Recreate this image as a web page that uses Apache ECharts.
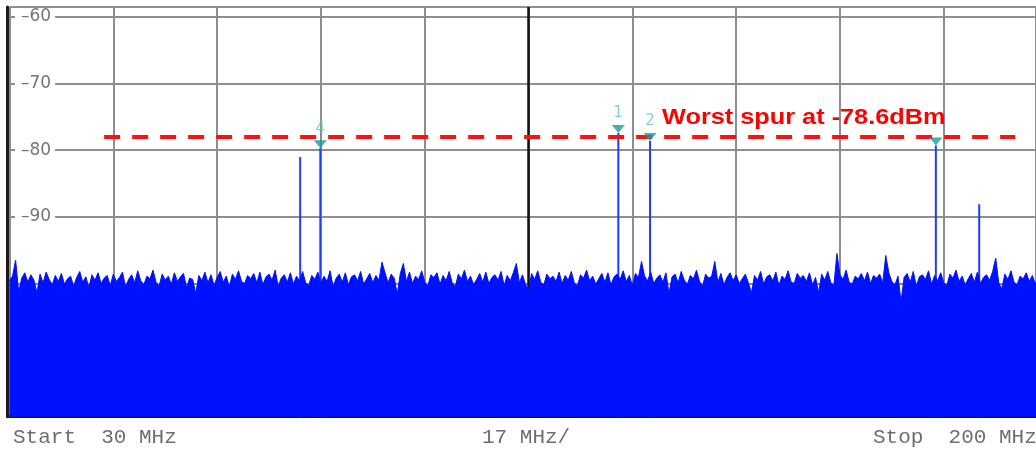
<!DOCTYPE html>
<html><head><meta charset="utf-8">
<script src="https://cdn.jsdelivr.net/npm/echarts@6/dist/echarts.min.js"></script>
<style>html,body{margin:0;padding:0;background:#fff;}#c{width:1036px;height:449px;}</style>
</head><body><div id="c"></div>
<script>
// ---- data ----
const yTickValues = [-90, -80, -70, -60];
const footerLabels = ['Start  30 MHz', '17 MHz/', 'Stop  200 MHz'];
const sweepStartMHz = 30;
const sweepStepMHz = 0.5;
const noiseLevels = [
  -99.6,-98.9,-96.5,-101.3,-99.2,-98.4,-99.8,-98.7,-99.5,-101.4,-98.6,-99.9,-98.3,-99.4,-100.2,-98.8,-99.7,-98.5,-100.1,-99.3,
  -98.9,-100.4,-99.1,-98.2,-99.8,-99.0,-100.6,-98.7,-99.5,-98.4,-100.0,-99.2,-98.8,-100.3,-98.6,-99.7,-99.1,-98.3,-100.5,-99.4,
  -98.7,-99.9,-98.1,-99.6,-100.2,-98.9,-99.3,-98.0,-99.8,-100.4,-98.6,-99.5,-98.9,-100.1,-98.4,-99.7,-99.0,-98.5,-100.6,-99.2,
  -99.4,-101.5,-98.8,-99.6,-98.3,-99.9,-98.7,-100.3,-99.1,-98.2,-99.8,-98.9,-100.5,-98.6,-99.4,-98.1,-99.7,-100.0,-98.8,-99.3,
  -98.5,-99.9,-98.3,-100.2,-99.0,-98.6,-99.5,-98.0,-100.4,-99.2,-98.7,-99.8,-98.4,-100.1,-98.9,-99.6,-98.2,-99.9,-100.3,-98.8,
  -99.4,-98.3,-100.0,-98.9,-99.7,-98.1,-100.5,-99.2,-98.6,-99.8,-98.4,-100.2,-99.0,-98.7,-99.6,-98.2,-100.1,-99.3,-98.5,-99.9,
  -98.8,-99.5,-96.8,-98.4,-99.9,-98.6,-99.2,-101.6,-98.5,-97.0,-99.7,-98.3,-100.0,-98.9,-99.4,-98.1,-99.8,-100.4,-98.7,-99.1,
  -98.4,-100.1,-98.8,-99.6,-98.2,-99.9,-100.5,-98.6,-99.3,-98.0,-99.7,-98.9,-100.2,-99.4,-98.5,-99.8,-98.3,-100.0,-99.1,-98.7,
  -99.5,-98.2,-100.3,-98.8,-99.6,-98.4,-97.0,-99.9,-98.7,-100.1,-101.0,-98.5,-99.4,-98.1,-99.8,-100.2,-98.6,-99.3,-98.9,-99.7,
  -98.3,-100.0,-98.8,-99.5,-98.2,-99.9,-100.4,-98.7,-99.2,-98.0,-99.6,-98.9,-100.1,-99.3,-98.5,-99.8,-98.4,-100.2,-99.0,-98.6,
  -99.4,-98.1,-99.7,-98.8,-100.3,-98.5,-99.1,-96.7,-98.9,-99.6,-98.3,-100.0,-99.2,-98.7,-99.8,-98.4,-101.5,-99.0,-98.6,-99.9,
  -98.2,-99.5,-100.1,-98.8,-99.3,-98.0,-99.7,-100.4,-98.6,-99.2,-98.9,-96.7,-99.8,-98.5,-100.2,-99.1,-98.4,-99.6,-98.7,-100.0,
  -99.3,-98.6,-99.9,-101.4,-98.8,-99.5,-98.2,-100.1,-99.0,-98.7,-99.6,-98.3,-100.3,-98.9,-99.4,-98.1,-99.8,-100.0,-98.5,-99.2,
  -98.8,-99.7,-98.4,-100.2,-99.1,-101.4,-98.6,-99.5,-98.2,-99.9,-100.3,-95.5,-98.7,-99.4,-98.0,-99.8,-100.1,-98.9,-99.3,-98.5,
  -99.6,-98.3,-100.0,-98.8,-99.2,-98.6,-99.9,-95.8,-98.4,-99.7,-100.2,-98.9,-102.7,-99.1,-98.5,-99.8,-98.2,-100.4,-99.0,-98.7,
  -99.4,-98.1,-100.1,-98.8,-99.6,-98.4,-99.9,-100.3,-98.6,-99.2,-98.0,-99.7,-98.9,-100.2,-99.3,-98.5,-99.8,-98.3,-100.0,-99.1,
  -98.7,-99.5,-98.2,-96.2,-99.9,-100.8,-98.6,-99.4,-98.1,-99.8,-100.2,-98.9,-99.3,-98.4,-99.7,-98.8,-100.1,-99.0,-98.5,-99.6,
  -99.2
];
const spurFreqs  = [77.6, 80.9, 129.7, 134.9, 181.7, 188.8];
const spurLevels = [-81.0, -79.7, -77.4, -78.6, -79.3, -88.1];
const markerNames  = ['4', '1', '2', '3'];
const markerFreqs  = [80.9, 129.7, 134.9, 181.7];
const markerLevels = [-79.7, -77.4, -78.6, -79.3];
const hiddenMarkerLabels = ['3'];
const worstSpurText = 'Worst spur at -78.6dBm';
const thresholdLevel = -78.0;
const thresholdSpan = [45.5, 194.7];
const centerFreq = 115;
const xStartMHz = 30;
const xVisibleEndMHz = 198.1;   // picture is cropped before the 200 MHz stop edge
const xDivMHz = 17;

// ---- chart ----
const Y_MIN = -120, Y_MAX = -58.5;
const noiseData = noiseLevels.map((v, i) => [sweepStartMHz + i * sweepStepMHz, v]);
const BLUE = '#0011ff';

const spurSeries = spurFreqs.map((f, i) => ({
  type: 'line', z: 2, symbol: 'none', silent: true, animation: false,
  data: [[f, Y_MIN], [f, spurLevels[i]]],
  lineStyle: { color: '#1f3cff', width: 2 }
}));

const chart = echarts.init(document.getElementById('c'), null, { renderer: 'canvas' });
chart.setOption({
  backgroundColor: '#ffffff',
  animation: false,
  grid: { left: 9.5, top: 7, right: 0, bottom: 32.3, containLabel: false },
  xAxis: {
    type: 'value', min: xStartMHz, max: xVisibleEndMHz, interval: xDivMHz,
    axisLine: { show: true, onZero: false, lineStyle: { color: '#1a1a1a', width: 3 } },
    axisTick: { show: false }, axisLabel: { show: false },
    splitLine: { show: true, lineStyle: { color: '#8e8e8e', width: 2 } }
  },
  yAxis: {
    type: 'value', min: Y_MIN, max: Y_MAX, interval: 10, offset: 2.5,
    axisLine: { show: true, onZero: false, lineStyle: { color: '#1a1a1a', width: 3 } },
    axisTick: { show: false },
    axisLabel: {
      show: true, inside: true, margin: 8, customValues: yTickValues,
      formatter: v => '\u2013' + Math.abs(v),
      color: '#757575', fontSize: 17, fontFamily: 'DejaVu Sans',
      backgroundColor: '#ffffff', padding: [0, 4, 0, 6]
    },
    splitLine: { show: true, lineStyle: { color: '#8e8e8e', width: 2 } }
  },
  graphic: [
    { type: 'text', x: 13, y: 437, z: 100, style: { text: footerLabels[0], font: '21px "Liberation Mono"', fill: '#6e6e6e', verticalAlign: 'middle' } },
    { type: 'text', x: 482, y: 437, z: 100, style: { text: footerLabels[1], font: '21px "Liberation Mono"', fill: '#6e6e6e', verticalAlign: 'middle' } },
    { type: 'text', x: 873, y: 437, z: 100, style: { text: footerLabels[2], font: '21px "Liberation Mono"', fill: '#6e6e6e', verticalAlign: 'middle' } },
    { type: 'text', x: 662, y: 118, z: 100, scaleX: 1.15, style: { text: worstSpurText, font: 'bold 22px "Liberation Sans"', fill: '#ff0000', verticalAlign: 'middle' } }
  ],
  series: [
    {
      type: 'line', z: 1, symbol: 'none', silent: true, data: [],
      markLine: {
        z: 1, silent: true, symbol: 'none', label: { show: false },
        lineStyle: { color: '#111111', width: 2.5, type: 'solid' },
        data: [{ xAxis: centerFreq }]
      }
    },
    ...spurSeries,
    {
      type: 'line', z: 3, symbol: 'none', silent: true, data: noiseData,
      lineStyle: { color: BLUE, width: 1 },
      areaStyle: { color: BLUE, opacity: 1, origin: 'start' }
    },
    {
      type: 'line', z: 4, symbol: 'none', silent: true, data: [],
      markLine: {
        z: 4, silent: true, symbol: 'none', label: { show: false },
        lineStyle: { color: '#ff1010', width: 4, type: [16, 12] },
        data: [[{ coord: [thresholdSpan[0], thresholdLevel] }, { coord: [thresholdSpan[1], thresholdLevel] }]]
      }
    },
    {
      type: 'scatter', z: 6, silent: true,
      symbol: 'triangle', symbolRotate: 180, symbolSize: [13, 8], symbolOffset: [0, -4],
      itemStyle: { color: '#169c9c' },
      data: markerFreqs.map((f, i) => ({
        name: markerNames[i], value: [f, markerLevels[i]],
        label: { show: hiddenMarkerLabels.indexOf(markerNames[i]) < 0 }
      })),
      label: { position: 'top', distance: 4, formatter: p => p.name, color: '#5fc4c4', fontSize: 15, fontFamily: 'DejaVu Sans' }
    }
  ]
});
</script>
</body></html>
